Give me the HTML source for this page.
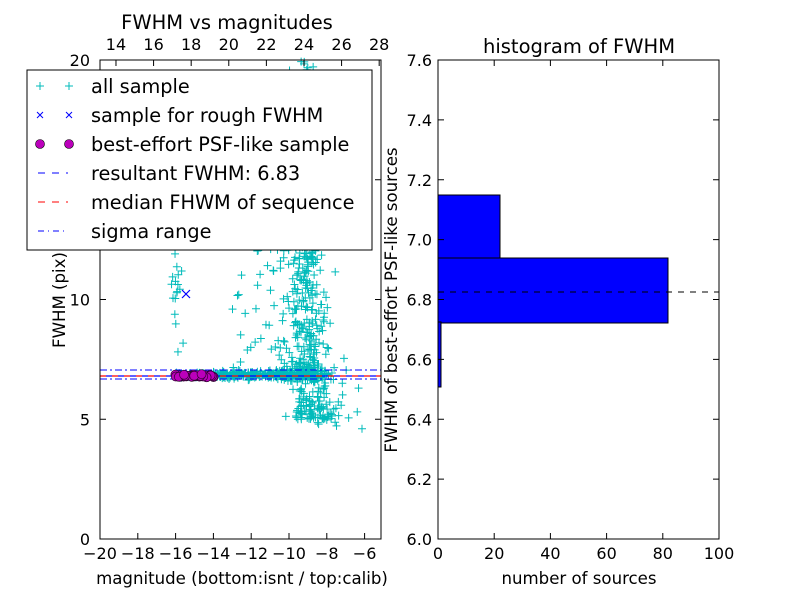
<!DOCTYPE html>
<html><head><meta charset="utf-8"><style>
body{margin:0;background:#fff}
svg{font-family:"DejaVu Sans","Liberation Sans",sans-serif}
</style></head><body>
<svg id="s" width="800" height="600" viewBox="0 0 800 600" xmlns="http://www.w3.org/2000/svg">
<rect width="800" height="600" fill="#fff"/>
<g id="pts"></g>
<line x1="100" x2="381" y1="370" y2="370" stroke="#00f" stroke-dasharray="7,3,2,3"/>
<line x1="100" x2="381" y1="379" y2="379" stroke="#00f" stroke-dasharray="7,3,2,3"/>
<line x1="100" x2="381" y1="376" y2="376" stroke="#f00" stroke-dasharray="6,6" stroke-width="1.2"/>
<line x1="106" x2="381" y1="376" y2="376" stroke="#00f" stroke-dasharray="6,6" stroke-width="1.2"/>
<g id="mag"></g>
<path d="M182 290l8 8M190 290l-8 8" stroke="#00f" stroke-width="1.2"/>
<rect x="100" y="60" width="281" height="479" fill="none" stroke="#000"/>
<g id="lt" font-size="16" text-anchor="middle"></g>
<text x="227" y="29" font-size="19.5" text-anchor="middle">FWHM vs magnitudes</text>
<text x="242" y="584" font-size="16.6" text-anchor="middle">magnitude (bottom:isnt / top:calib)</text>
<text transform="translate(65,300) rotate(-90)" font-size="16.6" text-anchor="middle">FWHM (pix)</text>
<rect x="27" y="70" width="345" height="180" fill="#fff" stroke="#000"/>
<g font-size="19.3">
<path d="M36 86h8M40 82v8M65 86h8M69 82v8" stroke="#0bb"/>
<text x="91" y="93">all sample</text>
<path d="M37 112l6 6M43 112l-6 6M66 112l6 6M72 112l-6 6" stroke="#00f"/>
<text x="91" y="122">sample for rough FWHM</text>
<circle cx="40" cy="144" r="4.5" fill="#b0b" stroke="#000" stroke-width=".6"/><circle cx="69" cy="144" r="4.5" fill="#b0b" stroke="#000" stroke-width=".6"/>
<text x="91" y="151">best-effort PSF-like sample</text>
<line x1="38" x2="68" y1="173" y2="173" stroke="#00f" stroke-dasharray="7,7"/>
<text x="91" y="180">resultant FWHM: 6.83</text>
<line x1="38" x2="68" y1="202" y2="202" stroke="#f00" stroke-dasharray="7,7"/>
<text x="91" y="209">median FHWM of sequence</text>
<line x1="38" x2="68" y1="231" y2="231" stroke="#00f" stroke-dasharray="6,4,1,4"/>
<text x="91" y="238">sigma range</text>
</g>
<rect x="438" y="195" width="62" height="65" fill="#00f" stroke="#000"/>
<rect x="438" y="258" width="230" height="65" fill="#00f" stroke="#000"/>
<rect x="438" y="322" width="3" height="65" fill="#00f" stroke="#000"/>
<line x1="438" x2="719" y1="292" y2="292" stroke="#000" stroke-dasharray="6,6"/>
<rect x="438" y="60" width="281" height="479" fill="none" stroke="#000"/>
<g id="rt" font-size="16"></g>
<text x="579" y="53" font-size="19.5" text-anchor="middle">histogram of FWHM</text>
<text x="579" y="584" font-size="16.6" text-anchor="middle">number of sources</text>
<text transform="translate(397,300) rotate(-90)" font-size="16.6" text-anchor="middle">FWHM of best-effort PSF-like sources</text>
</svg>
<script>
const NS="http://www.w3.org/2000/svg";
function el(p,t,a,txt){const e=document.createElementNS(NS,t);for(const k in a)e.setAttribute(k,a[k]);if(txt!==undefined)e.textContent=txt;document.getElementById(p).appendChild(e);return e;}
let seed=7;function r(){seed=(seed*16807)%2147483647;return seed/2147483647;}
function g(){return (r()+r()+r()+r()-2)*0.87;}
const X=v=>100+(v+20)*18.9, Y=v=>539-v*23.95;
function plus(x,y){if(x<101||x>380||y<61||y>538)return;el("pts","path",{d:`M${x-4} ${y}h8M${x} ${y-4}v8`,stroke:"#0bb","stroke-width":"1"});}
for(let i=0;i<400;i++){const m=-16+r()*8;plus(X(m),Y(6.85+g()*0.08*(1+(m+16)/4)));}
for(let i=0;i<550;i++){const yv=5+Math.pow(r(),1.5)*15;const c=-9.1+(yv<7?0.5:0)+(yv>12?-0.3:0);plus(X(c+g()*1.1*(yv>8?1:1.2)),Y(yv));}
for(let i=0;i<50;i++){plus(X(-13+r()*4.5),Y(7+r()*6));}
for(let i=0;i<20;i++){plus(X(-16+g()*0.3),Y(7.5+r()*6));}
for(let i=0;i<15;i++){plus(X(-8.5+r()*2.5),Y(4.6+r()*2));}
for(let i=0;i<8;i++){plus(X(-12+r()*4),Y(14+r()*6));}
for(let i=0;i<45;i++){el("mag","circle",{cx:174+r()*40,cy:376+g()*1.5,r:4.5,fill:"#b0b",stroke:"#303","stroke-width":".7"});}
for(let v=-20;v<=-6;v+=2){const x=X(v);el("lt","line",{x1:x,x2:x,y1:539,y2:533,stroke:"#000"});el("lt","text",{x:x,y:559},"\u2212"+(-v));}
for(let v=14;v<=28;v+=2){const x=100+(v-13.15)*18.8;el("lt","line",{x1:x,x2:x,y1:60,y2:66,stroke:"#000"});el("lt","text",{x:x,y:50},v);}
for(let v=0;v<=20;v+=5){const y=Y(v);el("lt","line",{x1:100,x2:106,y1:y,y2:y,stroke:"#000"});el("lt","line",{x1:381,x2:375,y1:y,y2:y,stroke:"#000"});el("lt","text",{x:90,y:y+6,"text-anchor":"end"},v);}
for(let v=0;v<=100;v+=20){const x=438+v*2.81;el("rt","line",{x1:x,x2:x,y1:539,y2:533,stroke:"#000"});el("rt","line",{x1:x,x2:x,y1:60,y2:66,stroke:"#000"});el("rt","text",{x:x,y:559,"text-anchor":"middle"},v);}
for(let i=0;i<=8;i++){const v=6+i*0.2,y=539-i*59.875;el("rt","line",{x1:438,x2:444,y1:y,y2:y,stroke:"#000"});el("rt","line",{x1:719,x2:713,y1:y,y2:y,stroke:"#000"});el("rt","text",{x:432,y:y+6,"text-anchor":"end"},v.toFixed(1));}
</script>
</body></html>
